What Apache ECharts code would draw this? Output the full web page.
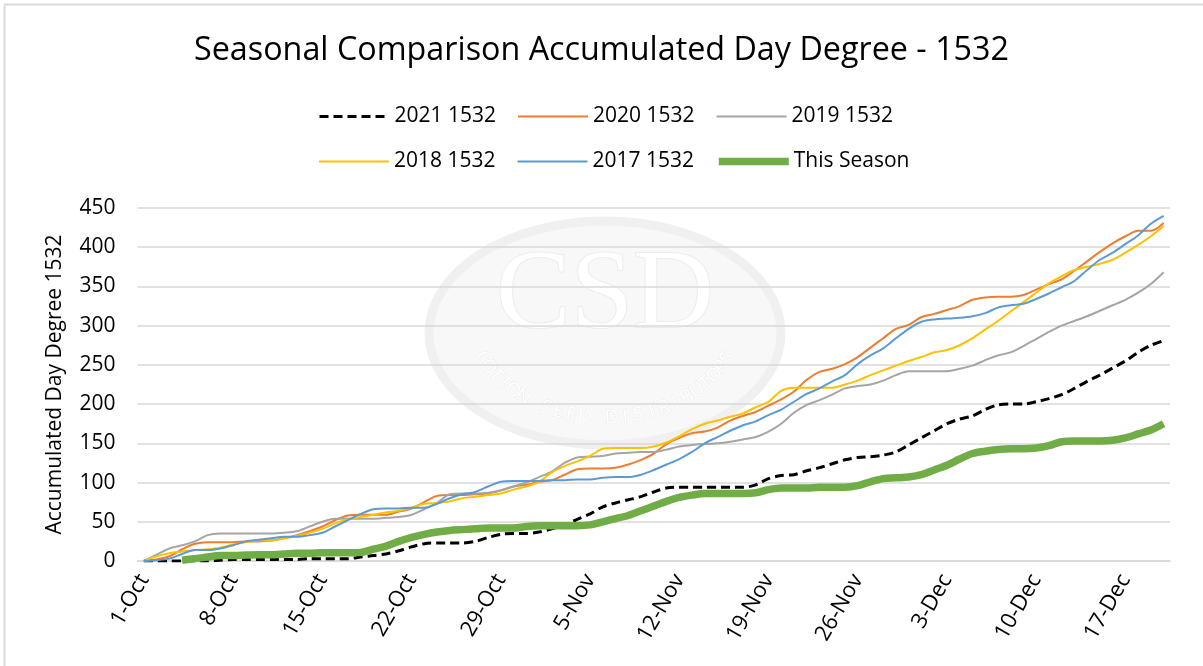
<!DOCTYPE html>
<html>
<head>
<meta charset="utf-8">
<script src="https://cdn.jsdelivr.net/npm/echarts@6/dist/echarts.min.js"></script>
<style>
  html, body { margin: 0; padding: 0; background: #fff; }
  #chart { width: 1203px; height: 666px; }
</style>
</head>
<body>
<div id="chart"></div>
<script>
const days = [
  '1-Oct','2-Oct','3-Oct','4-Oct','5-Oct','6-Oct','7-Oct','8-Oct','9-Oct','10-Oct',
  '11-Oct','12-Oct','13-Oct','14-Oct','15-Oct','16-Oct','17-Oct','18-Oct','19-Oct','20-Oct',
  '21-Oct','22-Oct','23-Oct','24-Oct','25-Oct','26-Oct','27-Oct','28-Oct','29-Oct','30-Oct','31-Oct',
  '1-Nov','2-Nov','3-Nov','4-Nov','5-Nov','6-Nov','7-Nov','8-Nov','9-Nov','10-Nov',
  '11-Nov','12-Nov','13-Nov','14-Nov','15-Nov','16-Nov','17-Nov','18-Nov','19-Nov','20-Nov',
  '21-Nov','22-Nov','23-Nov','24-Nov','25-Nov','26-Nov','27-Nov','28-Nov','29-Nov','30-Nov',
  '1-Dec','2-Dec','3-Dec','4-Dec','5-Dec','6-Dec','7-Dec','8-Dec','9-Dec','10-Dec',
  '11-Dec','12-Dec','13-Dec','14-Dec','15-Dec','16-Dec','17-Dec','18-Dec','19-Dec','20-Dec'
];

const s2021 = [
  0, 0, 0, 0, 0, 0, 1, 2, 2, 2, 2,
  2, 2, 3, 3, 3, 3, 5, 7, 9, 13,
  18, 22, 23, 23, 23, 25, 30, 34, 35, 35,
  37, 41, 46, 53, 60, 69, 74, 78, 82, 88,
  93, 94, 94, 94, 94, 94, 94, 97, 105, 109,
  110, 115, 119, 124, 129, 132, 133, 135, 139, 148,
  157, 166, 175, 181, 185, 193, 199, 200, 200, 203,
  207, 212, 220, 229, 237, 246, 255, 266, 275, 281
];
const s2020 = [
  0, 2, 6, 15, 22, 24, 24, 24, 25, 25, 26,
  29, 33, 38, 44, 52, 58, 59, 59, 59, 63,
  67, 75, 83, 84, 84, 85, 86, 90, 95, 97,
  101, 103, 110, 117, 118, 118, 119, 123, 129, 137,
  149, 157, 163, 165, 170, 179, 185, 190, 198, 206,
  216, 231, 241, 245, 251, 260, 272, 284, 296, 301,
  311, 315, 320, 325, 333, 336, 337, 337, 339, 346,
  353, 359, 370, 382, 394, 405, 414, 421, 421, 431
];
const s2019 = [
  0, 8, 16, 20, 25, 33, 35, 35, 35, 35, 35,
  36, 38, 44, 50, 54, 54, 54, 54, 55, 56,
  59, 66, 74, 85, 86, 86, 87, 90, 95, 100,
  107, 114, 125, 132, 133, 134, 137, 138, 139, 139,
  142, 146, 148, 149, 150, 152, 155, 158, 165, 175,
  189, 199, 205, 212, 220, 223, 225, 230, 237, 242,
  242, 242, 242, 245, 249, 256, 262, 266, 274, 283,
  292, 300, 306, 312, 319, 326, 333, 342, 353, 368
];
const s2018 = [
  0, 6, 10, 12, 14, 15, 17, 21, 24, 26, 26,
  29, 32, 36, 41, 48, 53, 56, 59, 62, 64,
  68, 73, 74, 76, 80, 82, 84, 86, 91, 95,
  101, 113, 121, 127, 134, 143, 144, 144, 144, 146,
  151, 159, 168, 175, 179, 184, 188, 196, 203, 217,
  221, 221, 221, 221, 225, 230, 237, 243, 249, 255,
  260, 266, 269, 275, 284, 295, 306, 318, 330, 342,
  354, 363, 371, 375, 379, 384, 393, 403, 414, 427
];
const s2017 = [
  0, 1, 3, 9, 14, 14, 16, 20, 25, 27, 29,
  31, 31, 33, 36, 44, 52, 60, 66, 67, 67,
  68, 68, 73, 80, 85, 88, 95, 101, 102, 102,
  102, 103, 103, 104, 104, 106, 107, 107, 110, 116,
  123, 130, 139, 150, 158, 166, 173, 178, 186, 193,
  203, 213, 220, 229, 237, 251, 262, 271, 284, 296,
  305, 308, 309, 310, 312, 316, 323, 326, 328, 334,
  341, 349, 357, 371, 384, 393, 404, 415, 430, 440
];
const thisSeason = [
  '-', '-', '-', 1, 3, 5, 7, 7, 7.5, 8, 8,
  9, 10, 10, 10.5, 10.5, 10.5, 11, 15, 19, 25,
  30, 34, 37, 39, 40, 41, 42, 42, 42, 44,
  45, 45, 45, 45, 46, 50, 54, 58, 64, 70,
  76, 81, 84, 86, 86, 86, 86, 87, 91, 93,
  93, 93, 94, 94, 94, 96, 101, 105, 106, 107,
  110, 116, 122, 130, 137, 140, 142, 143, 143, 144,
  147, 152, 153, 153, 153, 154, 157, 162, 167, 175
];

const FONT = 'Open Sans';

function mkLine(name, data, color, width, type) {
  return {
    name: name,
    type: 'line',
    data: data,
    smooth: 0.3,
    symbol: 'none',
    showSymbol: false,
    lineStyle: { color: color, width: width, type: type || 'solid' },
    itemStyle: { color: color },
    emphasis: { disabled: true }
  };
}

// watermark text bent along the lower part of the logo ellipse
function arcLetters(str, cx, cy, rx, ry, t0, t1) {
  const out = [];
  const n = str.length;
  for (let i = 0; i < n; i++) {
    const t = (t0 + (t1 - t0) * i / (n - 1)) * Math.PI / 180;
    out.push({
      type: 'text',
      x: cx + rx * Math.cos(t),
      y: cy + ry * Math.sin(t),
      rotation: Math.atan2(ry * Math.cos(t), rx * Math.sin(t)),
      style: {
        text: str[i], font: '19px "Open Sans"', fill: '#ffffff', stroke: '#ebebeb', lineWidth: 1,
        align: 'center', verticalAlign: 'middle'
      }
    });
  }
  return out;
}

const legendBase = {
  left: 313,
  itemWidth: 70, itemHeight: 14, itemGap: 21,
  itemStyle: { opacity: 0 },
  lineStyle: { width: 'inherit' },
  textStyle: { fontFamily: FONT, fontSize: 21, color: '#000' }
};

const chart = echarts.init(document.getElementById('chart'));
const option = {
  animation: false,
  backgroundColor: '#fff',
  textStyle: { fontFamily: FONT },
  title: {
    text: 'Seasonal Comparison Accumulated Day Degree - 1532',
    left: 'center',
    top: 30,
    textStyle: { fontFamily: FONT, fontSize: 32.3, fontWeight: 'normal', color: '#000' }
  },
  legend: [
    Object.assign({}, legendBase, { top: 101, data: ['2021 1532', '2020 1532', '2019 1532'] }),
    Object.assign({}, legendBase, { top: 146, data: ['2018 1532', '2017 1532', 'This Season'] })
  ],
  grid: { left: 137.5, right: 33, top: 208, bottom: 105 },
  xAxis: {
    type: 'category',
    data: days,
    boundaryGap: true,
    axisLine: { lineStyle: { color: '#d9d9d9', width: 1.5 } },
    axisTick: { interval: 6, length: 7, lineStyle: { color: '#d9d9d9', width: 1.5 } },
    axisLabel: { interval: 6, rotate: 60, margin: 15, fontFamily: FONT, fontSize: 22, color: '#000' },
    splitLine: { show: false }
  },
  yAxis: {
    type: 'value',
    min: 0, max: 450, interval: 50,
    name: 'Accumulated Day Degree 1532',
    nameLocation: 'middle',
    nameGap: 72,
    nameTextStyle: { fontFamily: FONT, fontSize: 21, color: '#000' },
    axisLine: { show: false },
    axisTick: { show: false },
    axisLabel: { margin: 22, fontFamily: FONT, fontSize: 21, color: '#000' },
    splitLine: { lineStyle: { color: '#d9d9d9', width: 1.5 } }
  },
  graphic: [
    // chart area border, only top and left are in frame
    { type: 'line', z: 100, shape: { x1: 4, y1: 4.5, x2: 1203, y2: 4.5 }, style: { stroke: '#d9d9d9', lineWidth: 2 } },
    { type: 'line', z: 100, shape: { x1: 4.5, y1: 6, x2: 4.5, y2: 666 }, style: { stroke: '#d9d9d9', lineWidth: 2 } },
    // faint CSD watermark
    {
      type: 'group', z: -10, silent: true,
      children: [
        { type: 'ellipse', shape: { cx: 605, cy: 333, rx: 176, ry: 112 }, style: { fill: '#f8f8f8', stroke: '#f0f0f0', lineWidth: 9 } },
        { type: 'text', x: 605, y: 298, style: { text: 'CSD', font: '112px "Liberation Serif", serif', fill: '#ffffff', stroke: '#ececec', lineWidth: 2, align: 'center', verticalAlign: 'middle' } }
      ].concat(arcLetters('COTTON SEED DISTRIBUTORS', 605, 322, 132, 96, 158, 22))
    }
  ],
  series: [
    mkLine('2021 1532', s2021, '#000000', 3, [9, 5]),
    mkLine('2020 1532', s2020, '#ED7D31', 2),
    mkLine('2019 1532', s2019, '#A5A5A5', 2),
    mkLine('2018 1532', s2018, '#FFC000', 2),
    mkLine('2017 1532', s2017, '#5B9BD5', 2),
    mkLine('This Season', thisSeason, '#70AD47', 7.5)
  ]
};
chart.setOption(option);
</script>
</body>
</html>
